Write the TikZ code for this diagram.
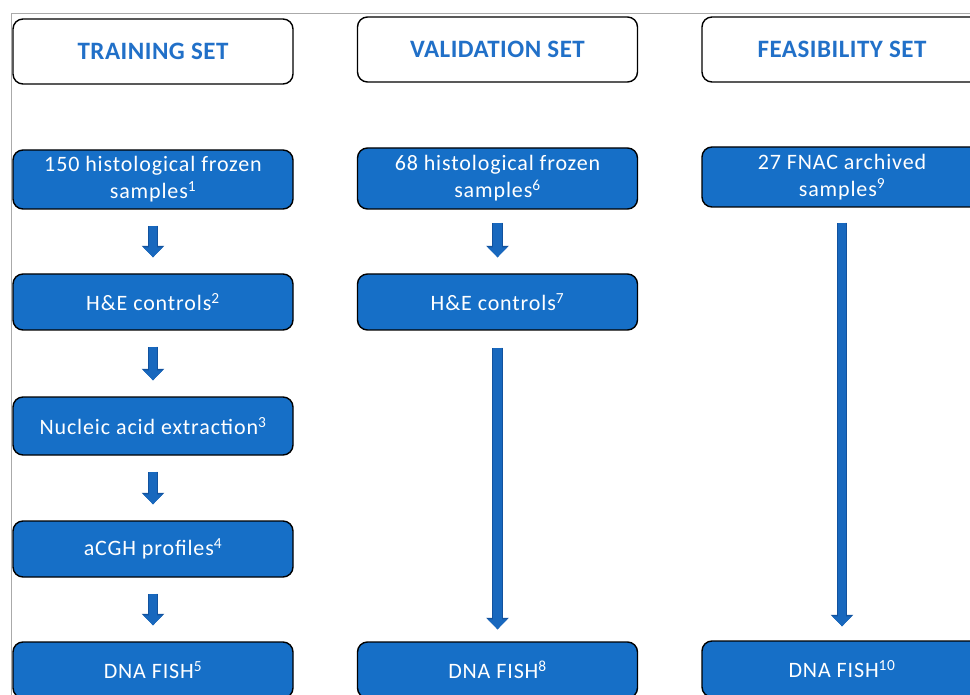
\documentclass[tikz,border=0pt]{standalone}
\usepackage{fontspec}
\setmainfont{Carlito}
\usetikzlibrary{arrows.meta}
\definecolor{boxblue}{RGB}{22,111,199}
\definecolor{arrowblue}{RGB}{24,104,190}
\definecolor{arrowedge}{RGB}{18,82,158}
\definecolor{titleblue}{RGB}{33,112,200}
\definecolor{framegray}{RGB}{170,170,170}
\tikzset{
  headbox/.style={draw=black, line width=1.4pt, rounded corners=10pt, fill=white,
    minimum width=280pt, minimum height=65pt, inner sep=0pt,
    text=titleblue, font=\fontsize{25}{28}\selectfont\bfseries\addfontfeatures{LetterSpace=2}},
  stepbox/.style={draw=black, line width=1.4pt, rounded corners=10pt, fill=boxblue,
    minimum width=280pt, inner sep=0pt, align=center,
    text=white, font=\fontsize{22}{27}\selectfont\addfontfeatures{LetterSpace=4}},
  flow/.style={arrowblue, line width=8.5pt,
    -{Triangle[width=19pt,length=10pt]},
    preaction={draw=arrowedge, line width=10.5pt, -{Triangle[width=22pt,length=11.5pt]}}}
}
\begin{document}
\begin{tikzpicture}[x=1pt,y=-1pt]
\useasboundingbox (0,0) rectangle (970,695);
% page frame
\draw[framegray, line width=1pt] (11,695) -- (11,14) -- (970,14);

% column headers
\node[headbox] (ht) at (153,51.5) {TRAINING SET};
\node[headbox] (hv) at (497.5,49.5) {VALIDATION SET};
\node[headbox] (hf) at (842,49.5) {FEASIBILITY SET};

% training column
\node[stepbox, minimum height=59pt] (t1) at (153,179.5) {150 histological frozen\\samples\textsuperscript{1}};
\node[stepbox, minimum height=56pt] (t2) at (153,302) {H\&E controls\textsuperscript{2}};
\node[stepbox, minimum height=58pt] (t3) at (153,426) {Nucleic acid extraction\textsuperscript{3}};
\node[stepbox, minimum height=56pt] (t4) at (153,549) {aCGH profiles\textsuperscript{4}};
\node[stepbox, minimum height=56pt] (t5) at (153,670) {DNA FISH\textsuperscript{5}};

% validation column
\node[stepbox, minimum height=61pt] (v1) at (497.5,178.5) {68 histological frozen\\samples\textsuperscript{6}};
\node[stepbox, minimum height=56pt] (v2) at (497.5,302) {H\&E controls\textsuperscript{7}};
\node[stepbox, minimum height=56pt] (v3) at (497.5,670) {DNA FISH\textsuperscript{8}};

% feasibility column
\node[stepbox, minimum height=60pt] (f1) at (842,177) {27 FNAC archived\\samples\textsuperscript{9}};
\node[stepbox, minimum height=56pt] (f2) at (842,669) {DNA FISH\textsuperscript{10}};

% connectors
\draw[flow, shorten <=16pt, shorten >=16pt] (t1) -- (t2);
\draw[flow, shorten <=16pt, shorten >=16pt] (t2) -- (t3);
\draw[flow, shorten <=16pt, shorten >=16pt] (t3) -- (t4);
\draw[flow, shorten <=16pt, shorten >=16pt] (t4) -- (t5);
\draw[flow, shorten <=13pt, shorten >=16pt] (v1) -- (v2);
\draw[flow, shorten <=17pt, shorten >=12pt] (v2) -- (v3);
\draw[flow, shorten <=15pt, shorten >=14pt] (f1) -- (f2);
\end{tikzpicture}
\end{document}
